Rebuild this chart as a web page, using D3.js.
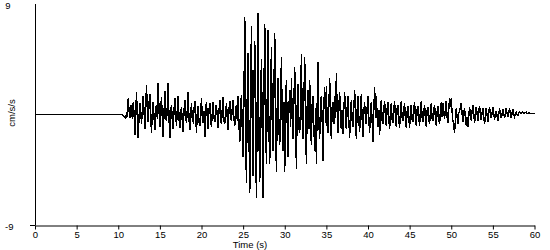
<!DOCTYPE html>
<html lang="en">

<head>
    <meta charset="UTF-8">
    <title>Accelerogram</title>
    <style>
        body { margin: 0; background: #fff; }
        text { font-family: Arial, "Liberation Sans", sans-serif; font-size: 9.5px; fill: #000; }
    </style>
</head>

<body>
    <script src="https://cdn.jsdelivr.net/npm/d3@7"></script>
    <script>
        // quiet record before the event
        var quietTimes = [0, 10];
        var quietValues = [0, 0];

        // samples from 10 s, every 0.1 s (cm/s/s)
        var sampleStart = 10;
        var sampleStep = 0.1;
        var accel = [
            0, 0, 0, 0, 0, 0, -0.1, -0.15, -0.25, -0.3,
            0.2, -0.2, 1.3, 0.3, -0.3, 0.8, 0.6, -0.4, 1.0, 0.1,
            -1.7, 0.4, 1.8, -0.6, -1.9, -0.2, 0.9, 0.3, -0.8, 0.5,
            1.5, 0.2, -1.2, 0.7, 2.4, 0.1, -0.6, 0.9, 1.7, -0.3,
            -1.5, 0.4, 1.0, -0.2, -1.3, 0.5, 0.8, -0.4, 2.6, 0.3,
            -1.0, 0.6, 1.4, -0.5, -1.8, 0.2, 1.9, -0.3, -0.5, 0.7,
            2.6, -0.4, -1.9, 0.3, 0.8, -0.6, -1.2, 0.4, 1.3, -0.2,
            -0.9, 0.5, 1.5, -0.3, -1.1, 0.2, 0.6, -0.7, -1.4, 0.3,
            1.2, -0.3, -0.7, 0.5, 1.8, -0.4, -1.3, 0.2, 0.9, -0.5,
            -0.6, 0.4, 1.1, -0.2, -1.5, 0.3, 0.7, -0.6, -0.9, 0.2,
            1.3, -0.4, -0.7, 0.3, -1.8, 0.5, 1.0, -0.3, -1.2, 0.4,
            0.9, -0.5, -1.0, 0.2, 1.0, -0.3, -0.6, 0.6, 0.8, -0.2,
            -1.1, 0.3, 1.2, -0.4, -0.8, 0.5, 1.4, -0.6, -0.7, 0.2,
            0.9, -0.3, -1.3, 0.4, 1.1, -0.2, -0.5, 0.6, 1.2, -0.4,
            -0.9, 0.3, 0.8, -0.5, 1.5, -0.8, -2.2, 0.6, 1.6, -1.2,
            -3.5, 1.5, 7.9, -2.0, -5.6, 1.8, 5.0, -1.5, -6.4, 2.2,
            7.2, -1.0, -5.0, 2.5, 6.0, -2.2, -6.8, 1.5, 8.3, -1.8,
            -5.5, 1.2, 4.5, -1.5, -6.8, 2.0, 7.4, -0.8, -4.0, 1.6,
            6.9, -1.3, -4.0, 1.8, 5.5, -0.9, -3.0, 2.1, 6.6, -1.1,
            -4.7, 0.8, 3.0, -1.2, -2.5, 1.3, 4.7, -0.7, -3.0, 1.0,
            -4.7, 1.1, 2.8, -0.9, -3.5, 0.6, 2.0, -1.0, 3.0, -0.5,
            -2.0, 1.2, 3.9, -0.8, -4.4, 0.9, 2.5, -1.1, -1.5, 0.7,
            4.9, -0.6, -2.0, 1.4, 4.7, -0.9, -4.0, 0.8, 2.0, -1.2,
            2.8, -0.7, -2.5, 0.9, 1.5, -1.1, -3.0, 0.5, -4.0, 1.0,
            4.3, -0.8, -2.0, 1.0, 1.5, -0.6, -3.8, 0.9, 2.2, -0.7,
            2.3, -0.9, -1.5, 0.8, 3.0, -0.5, -2.0, 0.6, 1.0, -0.8,
            1.5, -0.3, 3.4, 0.2, -1.5, 0.7, 1.8, -0.6, -1.2, 0.4,
            -1.6, 0.5, 1.8, -0.4, -1.2, 0.6, 1.5, -0.5, -1.9, 0.3,
            1.2, -0.5, -1.0, 0.6, 2.0, -0.3, -2.0, 0.4, 1.5, -0.6,
            -1.4, 0.5, 1.7, -0.4, -1.8, 0.3, 1.0, -0.5, -0.8, 0.6,
            1.5, -0.4, -1.5, 0.5, 1.0, -0.6, -2.2, 0.4, 2.2, -0.3,
            1.5, -0.2, -1.0, 0.4, -1.7, 0.3, 1.2, -0.5, -0.8, 0.4,
            1.1, -0.3, -0.9, 0.5, 1.0, -0.4, -1.2, 0.3, 0.9, -0.4,
            -0.7, 0.4, 1.1, -0.3, -1.0, 0.5, 0.8, -0.4, -1.1, 0.3,
            1.1, -0.3, -0.5, 0.4, 0.9, -0.5, -1.1, 0.2, 0.7, -0.3,
            -1.1, 0.3, 0.8, -0.4, -0.6, 0.5, 1.0, -0.3, -0.9, 0.4,
            0.7, -0.3, -0.9, 0.4, 1.1, -0.2, -0.6, 0.3, 0.8, -0.4,
            -1.0, 0.3, 0.6, -0.4, -0.8, 0.2, 0.9, -0.3, -0.5, 0.4,
            0.8, -0.3, -0.9, 0.2, 0.7, -0.4, -0.8, 0.3, 1.0, -0.2,
            0.9, 0.2, -0.4, 0.5, 1.1, -0.2, -0.7, 0.4, 1.3, 0.6,
            1.3, 0.2, -0.5, -0.9, -1.5, -0.4, 0.5, -0.2, -0.8, 0.1,
            0.3, 0.6, 0.9, 0.1, -0.6, 0.2, 0.5, -0.3, -0.9, -0.2,
            -1.0, -0.2, 0.6, 0.1, -0.5, 0.3, 0.8, 0.1, -0.7, 0.0,
            0.6, 0.1, -0.5, 0.2, 0.7, 0.0, -0.4, 0.1, 0.5, -0.1,
            -0.8, -0.2, 0.5, 0.0, -0.6, 0.1, 0.6, 0.0, -0.3, 0.1,
            0.6, 0.1, -0.4, 0.0, 0.3, -0.1, -0.5, 0.0, 0.5, 0.1,
            -0.3, 0.0, 0.4, 0.1, -0.3, 0.1, 0.5, 0.1, -0.2, 0.1,
            0.5, 0.1, -0.3, 0.1, 0.4, 0.0, -0.2, 0.1, 0.2, 0.0,
            -0.1, 0.1, 0.2, 0.1, 0.1, 0.15, 0.2, 0.1, 0.1, 0.15,
            0.2, 0.1, 0.1, 0.15, 0.15, 0.1, 0.1, 0.1, 0.1, 0.1,
            0.1
        ];

        var xTicks = [0, 5, 10, 15, 20, 25, 30, 35, 40, 45, 50, 55, 60];
        var yLabels = [9, -9];

        var width = 550, height = 250;
        var svg = d3.select('body').append('svg').attr('width', width).attr('height', height);

        var x = d3.scaleLinear().domain([0, 60]).range([35, 534.5]);
        var y = d3.scaleLinear().domain([-9, 9]).range([225, 4]);

        // points of the trace
        var points = quietTimes.map(function (t, i) { return [t, quietValues[i]]; });
        accel.forEach(function (v, i) { points.push([sampleStart + i * sampleStep, v]); });

        var line = d3.line().x(function (d) { return x(d[0]); }).y(function (d) { return y(d[1]); });
        svg.append('path').datum(points)
            .attr('d', line)
            .attr('fill', 'none')
            .attr('stroke', '#000')
            .attr('stroke-width', 1.4)
            .attr('shape-rendering', 'crispEdges');

        // x axis
        var xAxis = d3.axisBottom(x).tickValues(xTicks).tickSize(4).tickSizeOuter(0).tickPadding(2);
        var gx = svg.append('g').attr('transform', 'translate(0,225.5)').call(xAxis);
        gx.select('.domain').attr('stroke', '#000');
        gx.selectAll('.tick line').attr('stroke', '#000');
        gx.selectAll('text').attr('font-size', null).attr('font-family', null).attr('fill', '#000');
        svg.append('line').attr('x1', 30).attr('x2', x(0)).attr('y1', 225.5).attr('y2', 225.5).attr('stroke', '#000');

        // y axis line
        svg.append('line').attr('x1', 35.5).attr('x2', 35.5).attr('y1', y(9)).attr('y2', 225.5).attr('stroke', '#000');

        svg.selectAll('.ylab').data(yLabels).enter().append('text')
            .attr('class', 'ylab')
            .attr('x', function (d) { return d > 0 ? 10.5 : 13.5; })
            .attr('y', function (d) { return y(d) + 4.5; })
            .attr('text-anchor', 'end')
            .text(function (d) { return d; });

        // titles
        svg.append('text').attr('x', 250).attr('y', 248).attr('text-anchor', 'middle').text('Time (s)');
        svg.append('text').attr('transform', 'translate(15,113) rotate(-90)').attr('text-anchor', 'middle').text('cm/s/s');
    </script>
</body>

</html>
